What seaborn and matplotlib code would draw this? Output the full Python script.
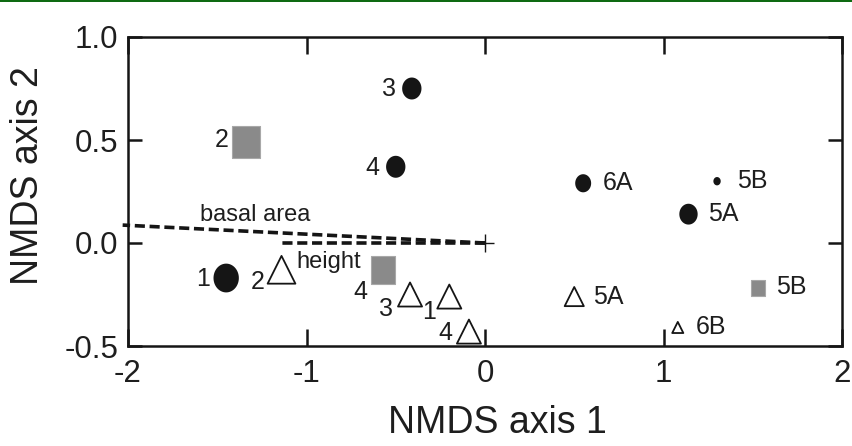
import matplotlib
matplotlib.use("Agg")
import matplotlib.pyplot as plt
from matplotlib import font_manager
from matplotlib.patches import Rectangle
from matplotlib.path import Path
import seaborn as sns
import pandas as pd
import numpy as np

# ordination scores
circle_x = [-1.45, -0.41, -0.50, 0.55, 1.14, 1.30]
circle_y = [-0.17, 0.75, 0.37, 0.29, 0.14, 0.30]
circle_lab = ["1", "3", "4", "6A", "5A", "5B"]

square_x = [-1.34, -0.57, 1.53]
square_y = [0.49, -0.13, -0.22]
square_lab = ["2", "4", "5B"]

tri_x = [-1.14, -0.42, -0.20, -0.09, 0.50, 1.08]
tri_y = [-0.13, -0.25, -0.26, -0.43, -0.26, -0.41]
tri_lab = ["2", "3", "1", "4", "5A", "6B"]

# fitted environmental vectors
vec_names = ["basal area", "height"]
vec_x = [-2.03, -1.14]
vec_y = [0.087, 0.0]

x_ticks = [-2, -1, 0, 1, 2]
y_ticks = [-0.5, 0.0, 0.5, 1.0]
y_tick_labels = ["-0.5", "0.0", "0.5", "1.0"]

# marker areas and label offsets (pixels) - style only
circle_s = [430, 250, 250, 170, 225, 36]
square_s = [560, 400, 130]
tri_s = [400, 300, 300, 300, 190, 64]
circle_off = [(-23, -1), (-23, 0), (-23, -1), (35, 0), (35, 0), (35, 0)]
square_off = [(-24, 2), (-23, -22), (33, 1)]
tri_off = [(-24, -12), (-24, -14), (-20, -15), (-24, -1), (34, 0), (33, 0)]
vec_off = [(133, 10), (47, -19)]

sns.set_style("ticks")
plt.rcParams["font.family"] = ["Liberation Sans", "DejaVu Sans"]
plt.rcParams["axes.unicode_minus"] = False

try:
    font_manager.findfont("Liberation Sans Narrow", fallback_to_default=False)
    narrow = ["Liberation Sans Narrow", "Liberation Sans"]
except Exception:
    narrow = ["Liberation Sans"]

ink = "#151515"
txt = "#1e1e1e"

# the original symbols are a little taller than wide
t = np.linspace(0, 2 * np.pi, 60)
tall_circle = Path(np.column_stack([0.88 * np.cos(t), np.sin(t)]), closed=True)
tall_square = Path([(-0.85, -1), (0.85, -1), (0.85, 1), (-0.85, 1), (-0.85, -1)],
                   closed=True)

fig = plt.figure(figsize=(8.53, 4.46), dpi=100)
ax = fig.add_axes([128 / 853, 1 - 346 / 446, 714 / 853, 309 / 446])

# green rule along the top of the image
fig.add_artist(Rectangle((0, 1 - 2.2 / 446), 1, 2.2 / 446, transform=fig.transFigure,
                         color="#0e6a12", lw=0))

# vectors from the origin
for vx, vy in zip(vec_x, vec_y):
    ax.plot([0, vx], [0, vy], color=ink, lw=2.6, linestyle=(0, (2.8, 1.3)),
            clip_on=False, dash_capstyle="butt")
ax.plot([0], [0], marker="+", ms=13, mew=1.0, color=ink)

df_c = pd.DataFrame({"x": circle_x, "y": circle_y})
df_s = pd.DataFrame({"x": square_x, "y": square_y})
df_t = pd.DataFrame({"x": tri_x, "y": tri_y})

sns.scatterplot(data=df_c, x="x", y="y", ax=ax, marker=tall_circle, s=circle_s,
                color=ink, linewidth=0, zorder=3)
sns.scatterplot(data=df_s, x="x", y="y", ax=ax, marker=tall_square, s=square_s,
                color="#8a8a8a", edgecolor="#a8a8a8", linewidth=0.8, zorder=3)
sns.scatterplot(data=df_t, x="x", y="y", ax=ax, marker="^", s=tri_s,
                facecolor="white", edgecolor=ink, linewidth=1.3, zorder=3)

for xs, ys, labs, offs in [(circle_x, circle_y, circle_lab, circle_off),
                           (square_x, square_y, square_lab, square_off),
                           (tri_x, tri_y, tri_lab, tri_off)]:
    for x, y, lab, off in zip(xs, ys, labs, offs):
        ax.annotate(lab, (x, y), xytext=off, textcoords="offset pixels",
                    ha="center", va="center", fontsize=18, color=txt)

for name, vx, vy, off in zip(vec_names, vec_x, vec_y, vec_off):
    ax.annotate(name, (vx, vy), xytext=off, textcoords="offset pixels",
                ha="center", va="center", fontsize=17, color=txt,
                annotation_clip=False)

ax.set_xlim(-2, 2)
ax.set_ylim(-0.5, 1.0)
ax.set_xticks(x_ticks)
ax.set_yticks(y_ticks)
ax.set_yticklabels(y_tick_labels)

for sp in ax.spines.values():
    sp.set_visible(True)
    sp.set_linewidth(1.8)
    sp.set_color(ink)

ax.tick_params(axis="both", direction="in", top=True, right=True, width=1.8,
               color=ink, labelsize=22.5, labelcolor=txt)
ax.tick_params(axis="x", length=12, pad=9)
ax.tick_params(axis="y", length=10, pad=7)

ax.set_xlabel("NMDS axis 1", fontsize=27, family=narrow, color=txt)
ax.set_ylabel("NMDS axis 2", fontsize=27, family=narrow, color=txt)
ax.xaxis.set_label_coords(0.517, -0.19)
ax.yaxis.set_label_coords(-0.115, 0.55)

fig.savefig("out.png", dpi=100)
